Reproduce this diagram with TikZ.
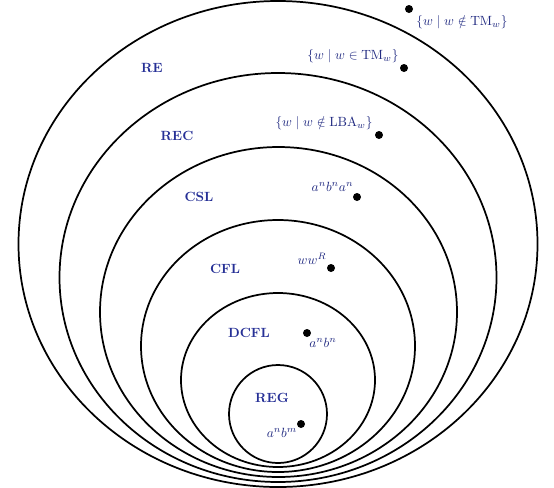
\documentclass[tikz,border=0pt]{standalone}
\usepackage{amsmath,amssymb}
\definecolor{lblblue}{RGB}{38,48,150}
\begin{document}
\begin{tikzpicture}[x=0.75pt,y=-0.75pt,
  setline/.style={line width=1.3pt,black},
  setname/.style={font=\bfseries,text=lblblue,inner sep=0pt},
  mathlbl/.style={text=lblblue!85!black,inner sep=0pt},
  dotmark/.style={circle,fill=black,inner sep=0pt,minimum size=6pt}]
\useasboundingbox (0,0) rectangle (554,487);
% nested sets
\draw[setline] (278,244)   ellipse [x radius=259.5, y radius=243];
\draw[setline] (278,277.5) ellipse [x radius=218.5, y radius=204.5];
\draw[setline] (278.5,312) ellipse [x radius=178.5, y radius=165];
\draw[setline] (278,346)   ellipse [x radius=137, y radius=126];
\draw[setline] (278,380)   ellipse [x radius=97, y radius=87];
\draw[setline] (278,414)   ellipse [x radius=49, y radius=49];
% class names
\node[setname] (re)   at (152,68)  {RE};
\node[setname] (rec)  at (177,136) {REC};
\node[setname] (csl)  at (199,197) {CSL};
\node[setname] (cfl)  at (225,269) {CFL};
\node[setname] (dcfl) at (249,333) {DCFL};
\node[setname] (reg)  at (272,398) {REG};
% example languages
\node[dotmark] (d1) at (409,9) {};
\node[mathlbl] (l1) at (462,22) {$\{w \mid w \notin \mathrm{TM}_w\}$};
\node[dotmark] (d2) at (404,68) {};
\node[mathlbl] (l2) at (353,56) {$\{w \mid w \in \mathrm{TM}_w\}$};
\node[dotmark] (d3) at (379,135) {};
\node[mathlbl] (l3) at (324,123) {$\{w \mid w \notin \mathrm{LBA}_w\}$};
\node[dotmark] (d4) at (357,197) {};
\node[mathlbl] (l4) at (332.5,187) {$a^nb^na^n$};
\node[dotmark] (d5) at (331,268) {};
\node[mathlbl] (l5) at (312,259) {$ww^R$};
\node[dotmark] (d6) at (307,333) {};
\node[mathlbl] (l6) at (323,343) {$a^nb^n$};
\node[dotmark] (d7) at (301,424) {};
\node[mathlbl] (l7) at (282,433) {$a^nb^m$};
\end{tikzpicture}
\end{document}
